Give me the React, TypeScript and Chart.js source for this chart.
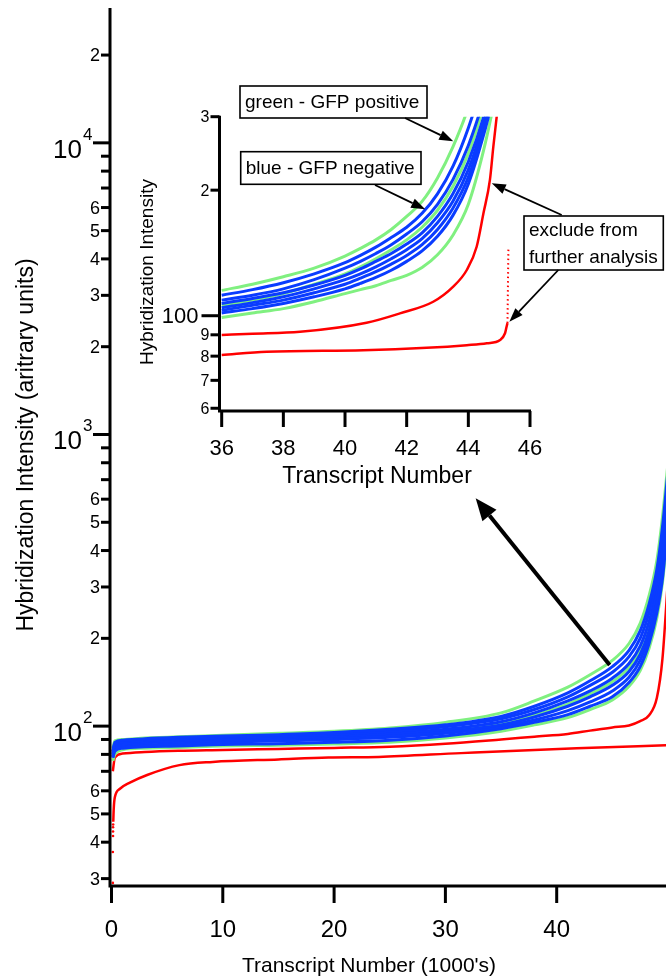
import React, { useEffect, useRef } from "react";
import { Chart, registerables } from "chart.js";

Chart.register(...registerables);

const FONT = '"Liberation Sans", Arial, Helvetica, sans-serif';
const GREEN = "#80f080";
const BLUE = "#0a3cff";
const RED = "#ff0000";

// ---------------- main chart data (x in 1000's) ----------------
const mainX = [0.12, 0.3, 1, 3, 6, 10, 15, 20, 25, 30, 35, 38, 41, 43, 45, 46.5, 47.5, 48.3, 49, 49.5, 50];
const mainGreen1 = [84, 89, 90, 91, 92, 93, 94.5, 96, 98.5, 103, 111, 122, 136, 150, 168, 192, 225, 280, 370, 520, 800];
const mainBlue1 = [82, 88, 89.5, 90.5, 91.5, 92.5, 93.5, 95, 97.5, 101, 108, 117, 130, 143, 160, 182, 212, 262, 345, 480, 750];
const mainBlue2 = [81, 87, 88.5, 89.5, 90.5, 91.5, 92.5, 93.8, 96, 99.5, 106, 114, 126, 138, 153, 173, 200, 245, 320, 440, 700];
const mainBlue3 = [80, 86, 87.5, 88.5, 89.5, 90.5, 91.5, 92.5, 94.5, 97.5, 103.5, 111, 122, 132, 146, 164, 188, 228, 295, 400, 650];
const mainGreen2 = [79, 84, 86, 87, 88, 89, 90, 91.5, 93.5, 96.5, 102, 109, 119, 129, 142, 159, 182, 220, 282, 380, 620];
const mainBlue4 = [79, 85, 86.5, 87.5, 88.5, 89.5, 90.5, 91.5, 93, 96, 101, 107.5, 117, 126, 138, 154, 176, 212, 272, 365, 600];
const mainBlue5 = [78, 83, 85, 86, 87, 88, 89, 90, 91.5, 94.5, 99.5, 105, 113, 121, 132, 147, 168, 202, 258, 345, 560];
const mainBlue6 = [78, 82, 84, 85, 85.5, 86.5, 87, 88, 89.5, 92.5, 98, 103, 109.5, 117, 126, 141, 160, 192, 245, 320, 500];
const mainGreen3 = [76, 80, 83, 84, 84.5, 85.5, 86, 86.8, 88, 91, 96, 101, 107, 114, 123, 137, 155, 185, 235, 310, 480];
const mainRedUpper = [70, 78, 80.5, 81.5, 82.3, 82.8, 83.5, 84.2, 85, 87, 90, 92, 94, 96.5, 99, 100.5, 104, 109, 125, 170, 320];

const mainRedLowerX = [0.16, 0.2, 0.3, 0.76, 1.65, 3.2, 6.1, 9.1, 15, 19.5, 24, 31.4, 41.8, 50];
const mainRedLower = [47, 52, 57, 61, 64, 68, 73.5, 75.4, 76.9, 78, 78.4, 80.8, 84, 86];
const mainRedDotsX = [0.12, 0.12, 0.14, 0.14, 0.14, 0.15];
const mainRedDots = [29, 37, 42, 43.5, 45, 46];

const mainXTicks = [0, 10, 20, 30, 40];
const mainXTickLabels = ["0", "10", "20", "30", "40"];
const mainYMinor = [30, 40, 50, 60, 70, 80, 90, 200, 300, 400, 500, 600, 700, 800, 900, 2000, 3000, 4000, 5000, 6000, 7000, 8000, 9000, 20000];
const mainYMinorLabels = ["3", "4", "5", "6", "", "", "", "2", "3", "4", "5", "6", "", "", "", "2", "3", "4", "5", "6", "", "", "", "2"];
const mainYMajor = [100, 1000, 10000];
const mainYMajorExp = ["2", "3", "4"];
const mainXTitle = "Transcript Number (1000's)";
const mainYTitle = "Hybridization Intensity (aritrary units)";

// big arrow (data coords of main chart): tail -> head
const bigArrow = { x1: 44.76, y1: 162, x2: 32.72, y2: 604 };

// ---------------- inset data ----------------
const insetX = [36, 37, 38, 39, 40, 40.5, 41, 41.5, 42, 42.5, 43, 43.5, 44, 44.5, 45];
const insetGreen1 = [115, 119, 124, 130, 139, 145, 152, 161, 173, 188, 214, 254, 316, 427, 600];
const insetBlue1 = [112, 115.5, 120, 126, 134, 139.5, 146, 154, 163, 176, 196, 228, 282, 370, 510];
const insetBlue2 = [109, 112, 116, 122, 130, 135, 141, 148, 157, 168, 185, 212, 256, 330, 450];
const insetGreen2 = [106, 109, 113, 119, 126, 131, 137, 144, 152, 163, 179, 204, 245, 318, 440];
const insetBlue3 = [107, 110, 113.5, 118.5, 125, 129.5, 135, 141, 148.5, 158, 173, 196, 234, 300, 420];
const insetBlue4 = [104.5, 107.5, 111, 116, 122, 126, 131, 137, 144, 153, 167, 188, 224, 290, 400];
const insetBlue5 = [103, 106, 109, 113.5, 119, 123, 127.5, 133, 139.5, 148, 161, 181, 215, 280, 390];
const insetBlue6 = [101.5, 104, 107, 111, 116, 119.5, 123.5, 128.5, 135, 143, 155, 174, 207, 272, 380];
const insetGreen3 = [99, 101.5, 104, 108, 113, 115.5, 118, 121.5, 125, 130.5, 140, 156, 185, 250, 370];

const insetRedUpperX = [36, 37, 38.54, 40.7, 41.78, 42.86, 43.51, 43.95, 44.27, 44.49, 44.7, 44.81, 44.92, 45.0];
const insetRedUpper = [89.9, 90.5, 91.5, 96.2, 101.3, 108, 117.4, 128.7, 146.3, 176, 211.7, 254, 300, 340];
const insetRedLowerX = [36, 37.46, 40.59, 42.65, 43.95, 44.6, 45.03, 45.19, 45.24, 45.27];
const insetRedLower = [80.5, 82, 82.7, 83.8, 85, 85.9, 87.5, 90.8, 94.1, 96];
const insetRedDotsX = [45.27, 45.28, 45.29, 45.3];
const insetRedDots = [96, 110, 128, 145];

const insetXTicks = [36, 38, 40, 42, 44, 46];
const insetXTickLabels = ["36", "38", "40", "42", "44", "46"];
const insetYMinor = [60, 70, 80, 90, 200, 300];
const insetYMinorLabels = ["6", "7", "8", "9", "2", "3"];
const insetYMajor = [100];
const insetYMajorLabels = ["100"];
const insetXTitle = "Transcript Number";
const insetYTitle = "Hybridization Intensity";

// annotation boxes (inset canvas pixels) with arrow tips in inset data coords
const insetNotes = [
  { lines: ["green - GFP positive"], box: [120, 6, 307, 38], tail: [285, 38], tip: [43.51, 262] },
  { lines: ["blue - GFP negative"], box: [120.7, 71.7, 301, 104.3], tail: [255, 105], tip: [42.6, 180] },
  { lines: ["exclude from", "further analysis"], box: [404, 136, 543.3, 190], tail: [441.7, 135], tip: [44.76, 207.7] },
  { lines: [], box: null, tail: [438.3, 190], tip: [45.33, 96.7] },
];

function xy(xs: number[], ys: number[]) {
  return xs.map((x, i) => ({ x, y: ys[i] }));
}

function line(xs: number[], ys: number[], color: string, width: number, extra: any = {}) {
  return {
    data: xy(xs, ys),
    borderColor: color,
    backgroundColor: color,
    borderWidth: width,
    pointRadius: 0,
    fill: false,
    cubicInterpolationMode: "monotone",
    ...extra,
  };
}

function drawArrow(ctx: CanvasRenderingContext2D, x1: number, y1: number, x2: number, y2: number, lw: number, hl: number, hw: number) {
  const a = Math.atan2(y2 - y1, x2 - x1);
  const bx = x2 - hl * Math.cos(a);
  const by = y2 - hl * Math.sin(a);
  ctx.lineWidth = lw;
  ctx.beginPath();
  ctx.moveTo(x1, y1);
  ctx.lineTo(bx, by);
  ctx.stroke();
  ctx.beginPath();
  ctx.moveTo(x2, y2);
  ctx.lineTo(bx + (hw / 2) * Math.sin(a), by - (hw / 2) * Math.cos(a));
  ctx.lineTo(bx - (hw / 2) * Math.sin(a), by + (hw / 2) * Math.cos(a));
  ctx.closePath();
  ctx.fill();
}

const mainAxesPlugin = {
  id: "mainAxes",
  afterDraw(chart: any) {
    const ctx: CanvasRenderingContext2D = chart.ctx;
    const { left, right, top, bottom } = chart.chartArea;
    const xs = chart.scales.x;
    const ys = chart.scales.y;
    ctx.save();
    ctx.strokeStyle = "#000";
    ctx.fillStyle = "#000";
    ctx.lineWidth = 3;
    ctx.beginPath();
    ctx.moveTo(left, top);
    ctx.lineTo(left, bottom);
    ctx.moveTo(left - 1.5, bottom);
    ctx.lineTo(right, bottom);
    ctx.stroke();
    ctx.textAlign = "right";
    ctx.textBaseline = "middle";
    ctx.font = `18px ${FONT}`;
    mainYMinor.forEach((v, i) => {
      const y = ys.getPixelForValue(v);
      ctx.beginPath();
      ctx.moveTo(left - 9, y);
      ctx.lineTo(left, y);
      ctx.stroke();
      if (mainYMinorLabels[i]) ctx.fillText(mainYMinorLabels[i], left - 10, y + 1);
    });
    mainYMajor.forEach((v, i) => {
      const y = ys.getPixelForValue(v);
      ctx.beginPath();
      ctx.moveTo(left - 17, y);
      ctx.lineTo(left, y);
      ctx.stroke();
      ctx.textBaseline = "alphabetic";
      ctx.textAlign = "right";
      ctx.font = `26px ${FONT}`;
      ctx.fillText("10", left - 28, y + 15);
      ctx.textAlign = "left";
      ctx.font = `17px ${FONT}`;
      ctx.fillText(mainYMajorExp[i], left - 27, y - 3);
    });
    ctx.textAlign = "center";
    ctx.textBaseline = "middle";
    ctx.font = `24px ${FONT}`;
    mainXTicks.forEach((v, i) => {
      const x = xs.getPixelForValue(v);
      ctx.beginPath();
      ctx.moveTo(x, bottom);
      ctx.lineTo(x, bottom + 17);
      ctx.stroke();
      ctx.fillText(mainXTickLabels[i], x, bottom + 44);
    });
    ctx.font = `21px ${FONT}`;
    ctx.fillText(mainXTitle, 369, bottom + 80);
    ctx.save();
    ctx.translate(27, 445);
    ctx.rotate(-Math.PI / 2);
    ctx.font = `23px ${FONT}`;
    ctx.fillText(mainYTitle, 0, 0);
    ctx.restore();
    drawArrow(
      ctx,
      xs.getPixelForValue(bigArrow.x1),
      ys.getPixelForValue(bigArrow.y1),
      xs.getPixelForValue(bigArrow.x2),
      ys.getPixelForValue(bigArrow.y2),
      4,
      22,
      18
    );
    ctx.restore();
  },
};

const insetAxesPlugin = {
  id: "insetAxes",
  afterDraw(chart: any) {
    const ctx: CanvasRenderingContext2D = chart.ctx;
    const { left, right, top, bottom } = chart.chartArea;
    const xs = chart.scales.x;
    const ys = chart.scales.y;
    ctx.save();
    ctx.strokeStyle = "#000";
    ctx.fillStyle = "#000";
    ctx.lineWidth = 3;
    ctx.beginPath();
    ctx.moveTo(left, top - 1);
    ctx.lineTo(left, bottom);
    ctx.moveTo(left - 1.5, bottom);
    ctx.lineTo(right + 1, bottom);
    ctx.stroke();
    ctx.textAlign = "right";
    ctx.textBaseline = "middle";
    ctx.font = `16px ${FONT}`;
    insetYMinor.forEach((v, i) => {
      const y = ys.getPixelForValue(v);
      ctx.beginPath();
      ctx.moveTo(left - 9, y);
      ctx.lineTo(left, y);
      ctx.stroke();
      ctx.fillText(insetYMinorLabels[i], left - 10, y + 1);
    });
    ctx.font = `22px ${FONT}`;
    insetYMajor.forEach((v, i) => {
      const y = ys.getPixelForValue(v);
      ctx.beginPath();
      ctx.moveTo(left - 18, y);
      ctx.lineTo(left, y);
      ctx.stroke();
      ctx.fillText(insetYMajorLabels[i], left - 21, y + 1);
    });
    ctx.textAlign = "center";
    ctx.font = `22px ${FONT}`;
    insetXTicks.forEach((v, i) => {
      const x = xs.getPixelForValue(v);
      ctx.beginPath();
      ctx.moveTo(x, bottom);
      ctx.lineTo(x, bottom + 16);
      ctx.stroke();
      ctx.fillText(insetXTickLabels[i], x, bottom + 38);
    });
    ctx.font = `23px ${FONT}`;
    ctx.fillText(insetXTitle, 257, bottom + 66);
    ctx.save();
    ctx.translate(28, 192);
    ctx.rotate(-Math.PI / 2);
    ctx.font = `19px ${FONT}`;
    ctx.fillText(insetYTitle, 0, 0);
    ctx.restore();
    insetNotes.forEach((n) => {
      if (n.box) {
        const [x1, y1, x2, y2] = n.box;
        ctx.fillStyle = "#fff";
        ctx.fillRect(x1, y1, x2 - x1, y2 - y1);
        ctx.lineWidth = 1.6;
        ctx.strokeRect(x1, y1, x2 - x1, y2 - y1);
        ctx.fillStyle = "#000";
        ctx.textAlign = "left";
        ctx.textBaseline = "middle";
        ctx.font = `19px ${FONT}`;
        const h = (y2 - y1) / n.lines.length;
        n.lines.forEach((t, k) => ctx.fillText(t, x1 + 5, y1 + h * (k + 0.5) + 1));
      }
      ctx.fillStyle = "#000";
      drawArrow(ctx, n.tail[0], n.tail[1], xs.getPixelForValue(n.tip[0]), ys.getPixelForValue(n.tip[1]), 1.8, 14, 10);
    });
    ctx.restore();
  },
};

export default function App() {
  const mainRef = useRef<HTMLCanvasElement>(null);
  const insetRef = useRef<HTMLCanvasElement>(null);

  useEffect(() => {
    const main = new Chart(mainRef.current as HTMLCanvasElement, {
      type: "line",
      data: {
        datasets: [
          line(mainX, mainBlue1, BLUE, 3),
          line(mainX, mainBlue2, BLUE, 3),
          line(mainX, mainBlue3, BLUE, 3),
          line(mainX, mainBlue4, BLUE, 3),
          line(mainX, mainBlue5, BLUE, 3),
          line(mainX, mainBlue6, BLUE, 3),
          line(mainX, mainGreen1, GREEN, 3),
          line(mainX, mainGreen2, GREEN, 3),
          line(mainX, mainGreen3, GREEN, 3),
          line(mainX, mainRedUpper, RED, 2.5),
          line(mainRedLowerX, mainRedLower, RED, 2.5),
          line(mainRedDotsX, mainRedDots, RED, 0, { showLine: false, pointRadius: 1.3 }),
        ] as any,
      },
      options: {
        animation: false,
        responsive: false,
        devicePixelRatio: 1,
        layout: { padding: { left: 110, right: 0, top: 8, bottom: 94 } },
        plugins: { legend: { display: false }, tooltip: { enabled: false } },
        scales: {
          x: { type: "linear", min: -0.134, max: 49.82, display: false },
          y: { type: "logarithmic", min: 28.3, max: 29000, display: false },
        },
      } as any,
      plugins: [mainAxesPlugin],
    });

    const inset = new Chart(insetRef.current as HTMLCanvasElement, {
      type: "line",
      data: {
        datasets: [
          line(insetX, insetBlue1, BLUE, 3),
          line(insetX, insetBlue2, BLUE, 3),
          line(insetX, insetBlue3, BLUE, 3),
          line(insetX, insetBlue4, BLUE, 3),
          line(insetX, insetBlue5, BLUE, 3),
          line(insetX, insetBlue6, BLUE, 3),
          line(insetX, insetGreen1, GREEN, 3),
          line(insetX, insetGreen2, GREEN, 3),
          line(insetX, insetGreen3, GREEN, 3),
          line(insetRedUpperX, insetRedUpper, RED, 2.5),
          line(insetRedLowerX, insetRedLower, RED, 2.5),
          line(insetRedDotsX, insetRedDots, RED, 2, { borderDash: [1.5, 3], cubicInterpolationMode: "default" }),
        ] as any,
      },
      options: {
        animation: false,
        responsive: false,
        devicePixelRatio: 1,
        layout: { padding: { left: 99.5, right: 140, top: 36.7, bottom: 89 } },
        plugins: { legend: { display: false }, tooltip: { enabled: false } },
        scales: {
          x: { type: "linear", min: 35.929, max: 46, display: false },
          y: { type: "logarithmic", min: 59.1, max: 300, display: false },
        },
      } as any,
      plugins: [insetAxesPlugin],
    });

    return () => {
      main.destroy();
      inset.destroy();
    };
  }, []);

  return (
    <div style={{ position: "absolute", left: 0, top: 0, width: 670, height: 980, background: "#fff", overflow: "hidden" }}>
      <canvas ref={mainRef} width={670} height={980} style={{ position: "absolute", left: 0, top: 0 }} />
      <canvas ref={insetRef} width={550} height={420} style={{ position: "absolute", left: 120, top: 80 }} />
    </div>
  );
}
